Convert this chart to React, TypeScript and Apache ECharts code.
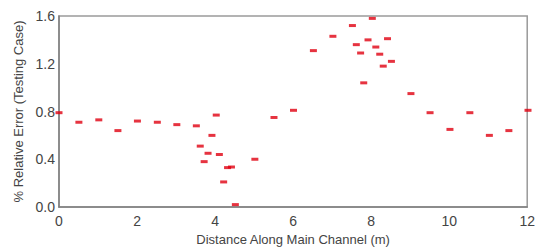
import React, { useEffect, useRef } from "react";
import * as echarts from "echarts";

const distance = [
  0, 0.51, 1.02, 1.51, 2.01, 2.52, 3.02, 3.52, 3.62, 3.72, 3.82, 3.92, 4.03, 4.11, 4.22, 4.32, 4.42, 4.52, 5.02,
  5.51, 6.01, 6.52, 7.02, 7.52, 7.62, 7.73, 7.81, 7.92, 8.03, 8.12, 8.22, 8.31, 8.42, 8.52, 9.02, 9.51, 10.02,
  10.53, 11.03, 11.53, 12.02,
];
const relError = [
  0.79, 0.71, 0.73, 0.64, 0.72, 0.71, 0.69, 0.68, 0.51, 0.38, 0.45, 0.6, 0.77, 0.44, 0.21, 0.33, 0.335, 0.02, 0.4,
  0.75, 0.81, 1.31, 1.43, 1.52, 1.36, 1.29, 1.04, 1.4, 1.58, 1.34, 1.28, 1.18, 1.41, 1.22, 0.95, 0.79, 0.65,
  0.79, 0.6, 0.64, 0.81,
];

export default function App() {
  const ref = useRef<HTMLDivElement>(null);
  useEffect(() => {
    if (!ref.current) return;
    const chart = echarts.init(ref.current, null, { renderer: "svg" });
    const font = "Liberation Sans, Arial, sans-serif";
    chart.setOption({
      animation: false,
      backgroundColor: "#ffffff",
      grid: {
        left: 59,
        right: 7,
        top: 16,
        bottom: 41,
        show: true,
        borderColor: "#9a9a9a",
        borderWidth: 1.5,
      },
      xAxis: {
        type: "value",
        min: 0,
        max: 12,
        interval: 2,
        name: "Distance Along Main Channel (m)",
        nameLocation: "middle",
        nameGap: 26,
        nameTextStyle: { fontFamily: font, fontSize: 13, color: "#444" },
        axisLine: { show: true, lineStyle: { color: "#808080", width: 1.5 } },
        axisTick: { show: false },
        splitLine: { show: false },
        axisLabel: { fontFamily: font, fontSize: 14, color: "#444", margin: 7 },
      },
      yAxis: {
        type: "value",
        min: 0,
        max: 1.6,
        interval: 0.4,
        name: "% Relative Error (Testing Case)",
        nameLocation: "middle",
        nameGap: 34,
        nameTextStyle: { fontFamily: font, fontSize: 13, color: "#444" },
        axisLine: { show: true, lineStyle: { color: "#808080", width: 1.5 } },
        axisTick: { show: false },
        splitLine: { show: false },
        axisLabel: {
          fontFamily: font,
          fontSize: 14,
          color: "#444",
          margin: 4,
          formatter: (v: number) => v.toFixed(1),
        },
      },
      series: [
        {
          type: "scatter",
          data: distance.map((d, i) => [d, relError[i]]),
          symbol: "rect",
          symbolSize: [7, 3],
          itemStyle: { color: "#e00010" },
          clip: false,
        },
      ],
    });
    return () => chart.dispose();
  }, []);
  return <div ref={ref} style={{ position: "fixed", left: 0, top: 0, width: 538, height: 251 }} />;
}
